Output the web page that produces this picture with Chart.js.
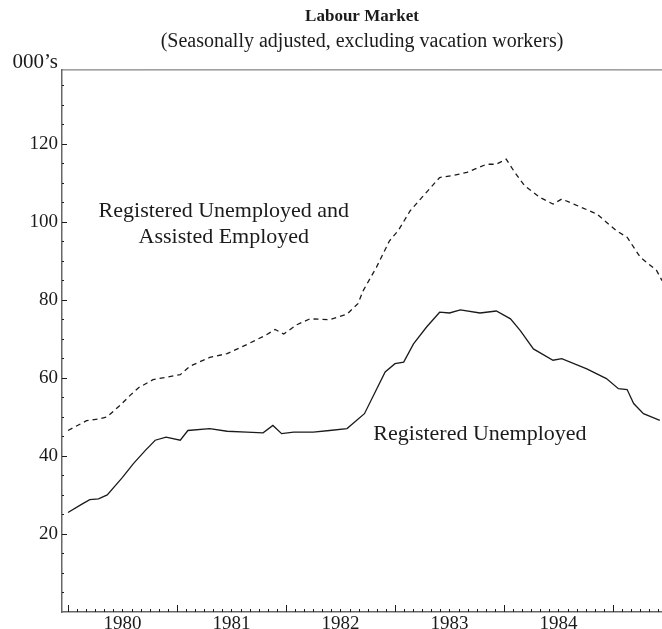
<!DOCTYPE html>
<html>
<head>
<meta charset="utf-8">
<script src="https://cdn.jsdelivr.net/npm/chart.js@4.4.1/dist/chart.umd.min.js"></script>
<style>
  html, body { margin: 0; padding: 0; background: #fff; }
  #wrap { width: 662px; height: 629px; }
</style>
</head>
<body>
<div id="wrap"><canvas id="labour"></canvas></div>
<script>
// values (thousands), x in fractional years
const totalYears = [1980.00, 1980.17, 1980.29, 1980.36, 1980.48, 1980.57, 1980.65, 1980.78, 1980.91, 1981.03,
  1981.12, 1981.30, 1981.46, 1981.64, 1981.82, 1981.90, 1981.98, 1982.10, 1982.22, 1982.40,
  1982.56, 1982.66, 1982.71, 1982.83, 1982.95, 1983.03, 1983.14, 1983.26, 1983.41, 1983.53,
  1983.66, 1983.84, 1983.93, 1984.02, 1984.10, 1984.19, 1984.33, 1984.45, 1984.53, 1984.64,
  1984.85, 1985.03, 1985.13, 1985.25, 1985.40, 1985.45];
const totalValues = [46.5, 49.0, 49.5, 50.0, 53.0, 55.5, 57.5, 59.5, 60.2, 60.8,
  63.0, 65.2, 66.2, 68.5, 71.0, 72.4, 71.2, 73.6, 75.1, 74.9,
  76.3, 79.0, 82.4, 88.3, 95.1, 97.7, 102.8, 106.6, 111.3, 111.8,
  112.6, 114.7, 114.7, 116.0, 112.6, 109.2, 106.2, 104.5, 105.8, 104.5,
  102.0, 97.7, 96.0, 90.9, 87.5, 84.9];

const regYears = [1980.00, 1980.12, 1980.20, 1980.28, 1980.36, 1980.50, 1980.60, 1980.71, 1980.80, 1980.90,
  1981.03, 1981.10, 1981.30, 1981.46, 1981.64, 1981.79, 1981.88, 1981.96, 1982.07, 1982.25,
  1982.40, 1982.56, 1982.72, 1982.91, 1983.00, 1983.08, 1983.17, 1983.29, 1983.41, 1983.50,
  1983.60, 1983.78, 1983.93, 1984.06, 1984.15, 1984.27, 1984.45, 1984.53, 1984.76, 1984.94,
  1985.05, 1985.13, 1985.19, 1985.28, 1985.43];
const regValues = [25.5, 27.5, 28.8, 29.0, 30.0, 34.5, 38.0, 41.4, 44.0, 44.8,
  44.0, 46.5, 47.0, 46.3, 46.1, 45.9, 47.8, 45.7, 46.1, 46.1,
  46.5, 47.0, 50.8, 61.5, 63.6, 64.0, 68.7, 73.0, 76.8, 76.6,
  77.4, 76.6, 77.1, 75.1, 72.1, 67.4, 64.5, 64.9, 62.3, 59.8,
  57.2, 57.0, 53.4, 50.8, 49.1];

const yearLabels = [1980, 1981, 1982, 1983, 1984];
const yTicks = [20, 40, 60, 80, 100, 120];

const toPoints = (xs, ys) => xs.map((x, i) => ({ x, y: ys[i] }));

const ink = '#1b1b1b';
const axisGrey = '#666';

const decor = {
  id: 'decor',
  afterDraw(chart) {
    const { ctx, chartArea: a, scales: { x, y } } = chart;
    ctx.save();
    ctx.strokeStyle = axisGrey;
    ctx.lineWidth = 1;

    // top edge of the frame
    ctx.beginPath();
    ctx.moveTo(a.left, a.top + 0.5);
    ctx.lineTo(a.right, a.top + 0.5);
    ctx.stroke();

    // monthly ticks inside the bottom axis, longer at each year
    ctx.strokeStyle = ink;
    ctx.beginPath();
    for (let m = 0; m <= 66; m++) {
      const px = Math.round(x.getPixelForValue(1980 + m / 12)) + 0.5;
      if (px > a.right) break;
      const len = m % 12 === 0 ? 7 : 3;
      ctx.moveTo(px, a.bottom);
      ctx.lineTo(px, a.bottom - len);
    }
    // ticks inside the left axis
    for (let v = 5; v < 139; v += 5) {
      const py = Math.round(y.getPixelForValue(v)) + 0.5;
      const len = v % 20 === 0 ? 5 : 2;
      ctx.moveTo(a.left, py);
      ctx.lineTo(a.left + len, py);
    }
    ctx.stroke();

    ctx.fillStyle = ink;
    ctx.font = '21px "Liberation Serif", serif';
    ctx.textAlign = 'right';
    ctx.textBaseline = 'alphabetic';
    ctx.fillText("000\u2019s", a.left - 4, a.top - 1);

    ctx.font = '22px "Liberation Serif", serif';
    ctx.textAlign = 'center';
    ctx.textBaseline = 'middle';
    ctx.fillText('Registered Unemployed and', x.getPixelForValue(1981.43), y.getPixelForValue(102.6));
    ctx.fillText('Assisted Employed', x.getPixelForValue(1981.43), y.getPixelForValue(95.9));
    ctx.fillText('Registered Unemployed', x.getPixelForValue(1983.78), y.getPixelForValue(45.5));
    ctx.restore();
  }
};

Chart.defaults.font.family = '"Liberation Serif", "Times New Roman", serif';
Chart.defaults.color = ink;

new Chart(document.getElementById('labour'), {
  type: 'line',
  data: {
    datasets: [
      {
        label: 'Registered Unemployed and Assisted Employed',
        data: toPoints(totalYears, totalValues),
        borderColor: ink,
        borderWidth: 1.3,
        borderDash: [5, 4],
        pointRadius: 0,
        tension: 0
      },
      {
        label: 'Registered Unemployed',
        data: toPoints(regYears, regValues),
        borderColor: ink,
        borderWidth: 1.3,
        pointRadius: 0,
        tension: 0
      }
    ]
  },
  options: {
    responsive: true,
    maintainAspectRatio: false,
    animation: false,
    layout: { padding: 0 },
    plugins: {
      legend: { display: false },
      tooltip: { enabled: false },
      title: {
        display: true,
        text: 'Labour Market',
        fullSize: false,
        font: { size: 17, weight: 'bold' },
        padding: { top: 6, bottom: 3 }
      },
      subtitle: {
        display: true,
        text: '(Seasonally adjusted, excluding vacation workers)',
        fullSize: false,
        font: { size: 20 },
        padding: { top: 0, bottom: 16 }
      }
    },
    scales: {
      x: {
        type: 'linear',
        min: 1979.945,
        max: 1985.45,
        grid: { display: false, drawTicks: false },
        border: { display: true, color: axisGrey, width: 1.5 },
        afterBuildTicks: (scale) => {
          scale.ticks = yearLabels.map(yr => ({ value: yr + 0.5 }));
        },
        afterFit: (scale) => { scale.height = 17; },
        ticks: {
          autoSkip: false,
          maxRotation: 0,
          padding: 1,
          font: { size: 19 },
          callback: (v) => String(Math.floor(v))
        }
      },
      y: {
        min: 0,
        max: 139,
        grid: { display: false, drawTicks: false },
        border: { display: true, color: axisGrey, width: 1.5 },
        afterBuildTicks: (scale) => {
          scale.ticks = yTicks.map(v => ({ value: v }));
        },
        afterFit: (scale) => { scale.width = 62; },
        ticks: {
          padding: 4,
          font: { size: 19 },
          callback: (v) => String(v)
        }
      }
    }
  },
  plugins: [decor]
});
</script>
</body>
</html>
